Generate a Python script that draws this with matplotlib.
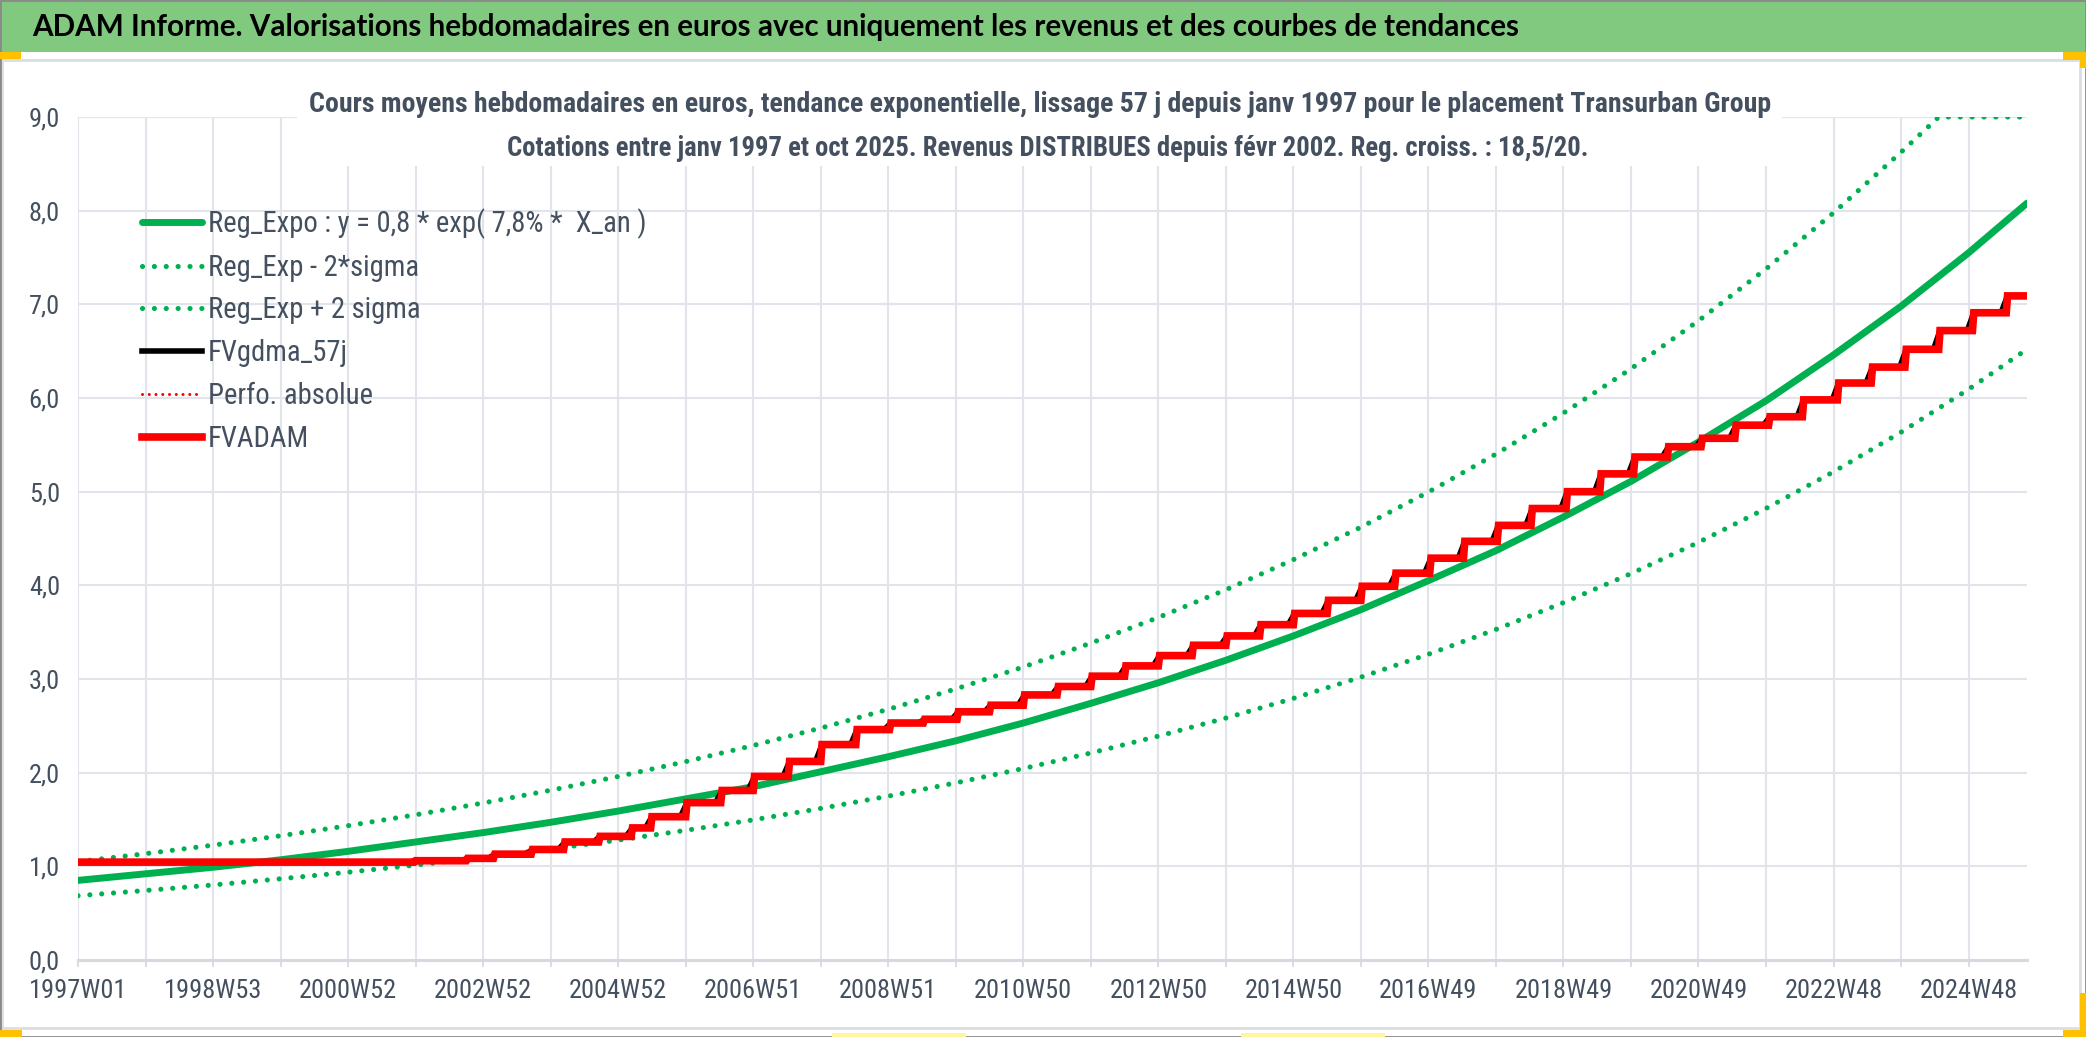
import numpy as np
import pandas as pd
import matplotlib
matplotlib.use("Agg")
import matplotlib.pyplot as plt
from matplotlib import font_manager as fm
from matplotlib.patches import Rectangle
from matplotlib.ticker import FixedLocator, FixedFormatter, FuncFormatter

# ------------------------------------------------------------------ data
n_weeks = 1502  # weekly points from 1997W01 to oct 2025

x_tick_labels = ["1997W01", "1998W53", "2000W52", "2002W52", "2004W52",
                 "2006W51", "2008W51", "2010W50", "2012W50", "2014W50",
                 "2016W49", "2018W49", "2020W49", "2022W48", "2024W48"]
label_every = 104
grid_every = 52

trend_weeks = [0, 52, 104, 156, 208, 260, 312, 364, 416, 468, 520, 572, 624,
               676, 728, 780, 832, 884, 936, 988, 1040, 1092, 1144, 1196,
               1248, 1300, 1352, 1404, 1456, 1501]
reg_expo = [0.85, 0.92, 0.99, 1.07, 1.16, 1.26, 1.36, 1.47, 1.59, 1.72, 1.85,
            2.01, 2.17, 2.34, 2.53, 2.74, 2.96, 3.20, 3.46, 3.74, 4.05, 4.37,
            4.73, 5.11, 5.53, 5.97, 6.46, 6.98, 7.55, 8.08]
reg_minus = [0.686, 0.742, 0.801, 0.867, 0.937, 1.013, 1.095, 1.184, 1.280,
             1.384, 1.496, 1.618, 1.749, 1.891, 2.044, 2.210, 2.390, 2.583,
             2.793, 3.020, 3.264, 3.529, 3.815, 4.125, 4.459, 4.821, 5.212,
             5.635, 6.093, 6.521]
plus_weeks = [0, 52, 104, 156, 208, 260, 312, 364, 416, 468, 520, 572, 624,
              676, 728, 780, 832, 884, 936, 988, 1040, 1092, 1144, 1196,
              1248, 1300, 1352, 1404, 1433, 1456, 1501]
reg_plus = [1.050, 1.135, 1.226, 1.326, 1.434, 1.550, 1.676, 1.812, 1.959,
            2.118, 2.290, 2.476, 2.676, 2.894, 3.128, 3.383, 3.657, 3.953,
            4.274, 4.621, 4.996, 5.401, 5.839, 6.312, 6.825, 7.378, 7.977,
            8.624, 9.0, 9.0, 9.0]

fv_start_level = 1.045
step_weeks = [260, 300, 321, 350, 375, 402, 427, 442, 469, 496,
              521, 548, 573, 600, 626, 652, 678, 703, 729, 755,
              781, 807, 833, 859, 885, 911, 937, 963, 989, 1015,
              1042, 1068, 1094, 1120, 1147, 1173, 1199, 1225, 1251, 1277,
              1303, 1329, 1356, 1382, 1408, 1434, 1460, 1486]
step_levels = [1.06, 1.085, 1.13, 1.18, 1.26, 1.32, 1.41, 1.53, 1.68, 1.81,
               1.96, 2.12, 2.30, 2.46, 2.53, 2.57, 2.65, 2.72, 2.83, 2.92,
               3.03, 3.14, 3.25, 3.36, 3.46, 3.58, 3.70, 3.84, 3.99, 4.13,
               4.29, 4.47, 4.64, 4.82, 5.00, 5.19, 5.37, 5.48, 5.57, 5.71,
               5.80, 5.98, 6.16, 6.33, 6.52, 6.72, 6.91, 7.09]

legend_labels = ["Reg_Expo : y = 0,8 * exp( 7,8% *  X_an )",
                 "Reg_Exp - 2*sigma", "Reg_Exp + 2 sigma", "FVgdma_57j",
                 "Perfo. absolue", "FVADAM"]
title = ("ADAM Informe. Valorisations hebdomadaires en euros avec uniquement "
         "les revenus et des courbes de tendances")
subtitle1 = ("Cours moyens hebdomadaires en euros, tendance exponentielle, "
             "lissage 57 j depuis janv 1997 pour le placement Transurban Group")
subtitle2 = ("Cotations entre janv 1997 et oct 2025. Revenus DISTRIBUES depuis "
             "févr 2002. Reg. croiss. : 18,5/20.")

# ------------------------------------------------------------------ series
fvadam = np.full(n_weeks, fv_start_level)
for w, lvl in zip(step_weeks, step_levels):
    fvadam[w:] = lvl
fvgdma = (pd.Series(fvadam).rolling(5, min_periods=1).mean()
          .shift(-4).fillna(fvadam[-1]).to_numpy())
weeks = np.arange(n_weeks)

# ------------------------------------------------------------------ fonts
avail = {f.name for f in fm.fontManager.ttflist}
def pick(cands):
    for c in cands:
        if c in avail:
            return c
    return "DejaVu Sans"
narrow = pick(["Liberation Sans Narrow", "Roboto Condensed", "Lato", "Roboto"])
bold_font = pick(["Lato", "Liberation Sans", "DejaVu Sans"])

W, H = 2086, 1037
fig = plt.figure(figsize=(W / 100, H / 100), dpi=100)
fig.patch.set_facecolor("white")

def fx(x):
    return x / W

def fy(y):
    return 1 - y / H

# banner & frame decorations
fig.add_artist(Rectangle((0, fy(52)), 1, 52 / H, transform=fig.transFigure,
                         facecolor="#80C97F", edgecolor="none", zorder=0))
fig.add_artist(Rectangle((fx(2), fy(1028)), fx(2078), (1028 - 60) / H,
                         transform=fig.transFigure, facecolor="none",
                         edgecolor="#DADDE2", lw=2, zorder=0))
fig.add_artist(Rectangle((0, 0), 1, 1, transform=fig.transFigure,
                         facecolor="none", edgecolor="#8A8A8A", lw=2, zorder=10))
orange = "#FFC000"
for (x0, y0, x1, y1) in [(0, 52, 21, 59), (0, 1030, 22, 1037),
                         (2063, 52, 2086, 60), (2080, 52, 2086, 68),
                         (2080, 993, 2086, 1037), (2063, 1030, 2086, 1037)]:
    fig.add_artist(Rectangle((fx(x0), fy(y1)), fx(x1 - x0), (y1 - y0) / H,
                             transform=fig.transFigure, facecolor=orange,
                             edgecolor="none", zorder=11))
for (x0, x1) in [(832, 966), (1241, 1385)]:
    fig.add_artist(Rectangle((fx(x0), fy(1037)), fx(x1 - x0), 4 / H,
                             transform=fig.transFigure, facecolor="#FFF59D",
                             edgecolor="none", zorder=11))

fig.text(fx(32), fy(27), title, fontsize=21.3, fontweight="bold",
         family=[bold_font, "DejaVu Sans"], color="black", ha="left",
         va="center")

# ------------------------------------------------------------------ axes
ax = fig.add_axes([fx(78), fy(960), fx(2027 - 78), (960 - 117) / H])
ax.set_xlim(0, n_weeks - 1)
ax.set_ylim(0, 9)
ax.set_facecolor("none")

grid_c = "#E1E4EA"
txt_c = "#44505F"
ax.set_axisbelow(True)
ax.xaxis.set_major_locator(FixedLocator(np.arange(0, n_weeks, grid_every)))
xt = []
for pos in np.arange(0, n_weeks, grid_every):
    xt.append(x_tick_labels[pos // label_every] if pos % label_every == 0 else "")
ax.xaxis.set_major_formatter(FixedFormatter(xt))
ax.yaxis.set_major_locator(FixedLocator(np.arange(0, 9.5, 1.0)))
ax.yaxis.set_major_formatter(FuncFormatter(lambda v, p: f"{v:.1f}".replace(".", ",")))
ax.grid(True, color=grid_c, lw=1.5)
for s in ["top", "right", "left"]:
    ax.spines[s].set_visible(False)
ax.spines["bottom"].set_color("#D6D9DE")
ax.spines["bottom"].set_linewidth(2.2)
ax.tick_params(axis="x", length=5, width=1.3, color="#D6D9DE", pad=9,
               labelsize=19, labelcolor=txt_c)
ax.tick_params(axis="y", length=0, pad=13, labelsize=19, labelcolor=txt_c)
for lab in ax.get_xticklabels() + ax.get_yticklabels():
    lab.set_family([narrow, "DejaVu Sans"])

# white box behind subtitle
ax.add_patch(Rectangle((fx(297), fy(166)), fx(1782 - 297), (166 - 75) / H,
                       transform=fig.transFigure, facecolor="white",
                       edgecolor="none", zorder=1.5))

green = "#00B050"
red = "#FF0000"
l1, = ax.plot(trend_weeks, reg_expo, color=green, lw=5.0, zorder=3,
              solid_capstyle="round")
l2, = ax.plot(trend_weeks, reg_minus, color=green, lw=3.7, zorder=3,
              linestyle=(0, (0.01, 2.3)), dash_capstyle="round")
l3, = ax.plot(plus_weeks, reg_plus, color=green, lw=3.7, zorder=3,
              linestyle=(0, (0.01, 2.3)), dash_capstyle="round")
l4, = ax.plot(weeks, fvgdma, color="black", lw=4.0, zorder=4)
l5, = ax.plot(weeks, fvadam, color=red, lw=2.2, zorder=4.5,
              linestyle=(0, (0.01, 2.2)), dash_capstyle="round")
l6, = ax.plot(weeks, fvadam, color=red, lw=5.5, zorder=5,
              solid_joinstyle="miter")

leg = fig.legend([l1, l2, l3, l4, l5, l6], legend_labels,
                 loc="upper left", bbox_to_anchor=(fx(142), fy(208)),
                 frameon=False, handlelength=2.1,
                 handletextpad=0.2, labelspacing=0.52, borderpad=0,
                 borderaxespad=0, prop={"family": [narrow, "DejaVu Sans"],
                                        "size": 20.6})
for t in leg.get_texts():
    t.set_color(txt_c)

fig.text(fx(1040), fy(104), subtitle1, fontsize=20.1, fontweight="bold",
         family=[narrow, "DejaVu Sans"], color=txt_c, ha="center",
         va="center", zorder=5)
fig.text(fx(1048), fy(149), subtitle2, fontsize=19.2, fontweight="bold",
         family=[narrow, "DejaVu Sans"], color=txt_c, ha="center",
         va="center", zorder=5)

fig.savefig("out.png", dpi=100, facecolor="white")
